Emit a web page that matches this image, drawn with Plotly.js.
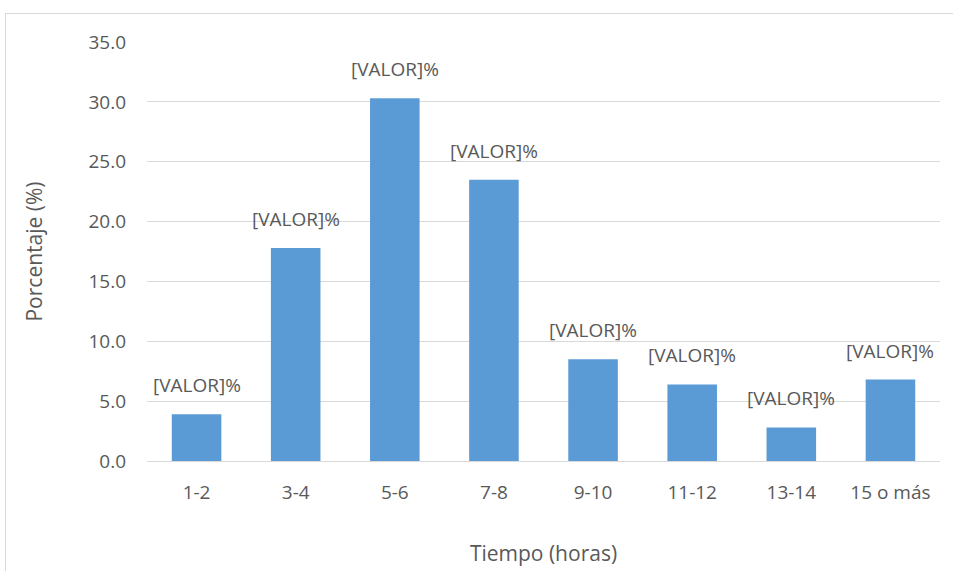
<!DOCTYPE html>
<html>
<head>
<meta charset="utf-8">
<script src="https://cdn.plot.ly/plotly-3.0.1.min.js"></script>
<style>
html,body{margin:0;padding:0;background:#fff;}
#wrap{position:relative;width:953px;height:571px;overflow:hidden;}
#chart{width:953px;height:571px;}
#frame{position:absolute;left:5px;top:13px;width:960px;height:600px;border:1px solid #d9d9d9;pointer-events:none;}
</style>
</head>
<body>
<div id="wrap"><div id="chart"></div><div id="frame"></div></div>
<script>
const categories = ["1-2","3-4","5-6","7-8","9-10","11-12","13-14","15 o más"];
const values = [3.9, 17.8, 30.3, 23.5, 8.5, 6.4, 2.8, 6.8];
const labels = categories.map(() => "[VALOR]%");
const yTickVals = [0,5,10,15,20,25,30,35];
const yTickText = ["0.0","5.0","10.0","15.0","20.0","25.0","30.0","35.0"];

const font = "Open Sans, Noto Sans, sans-serif";
const trace = {
  type: "bar",
  x: categories,
  y: values,
  marker: {color: "#5b9bd5"},
  width: 0.5,
  hoverinfo: "none"
};
const annotations = categories.map((c, i) => ({
  x: c, y: values[i], xref: "x", yref: "y",
  text: labels[i], showarrow: false,
  yanchor: "bottom", xanchor: "center", yshift: 14,
  font: {family: font, size: 19, color: "#595959"}
}));
const layout = {
  width: 953, height: 571,
  margin: {l: 147, r: 13, t: 42, b: 110},
  paper_bgcolor: "#ffffff",
  plot_bgcolor: "#ffffff",
  showlegend: false,
  annotations: annotations,
  xaxis: {
    type: "category",
    tickfont: {family: font, size: 19, color: "#595959"},
    showline: true, linecolor: "#d9d9d9", linewidth: 1,
    ticks: "", showgrid: false,
    ticklabelstandoff: 14,
    title: {text: "Tiempo (horas)", font: {family: font, size: 21, color: "#595959"}, standoff: 42}
  },
  yaxis: {
    range: [0, 35],
    tickvals: yTickVals, ticktext: yTickText,
    tickfont: {family: font, size: 19, color: "#595959"},
    showgrid: true, gridcolor: "#d9d9d9", gridwidth: 1,
    zeroline: false, showline: false, ticks: "",
    ticklabelstandoff: 20,
    title: {text: "Porcentaje (%)", font: {family: font, size: 21, color: "#595959"}, standoff: 40}
  }
};
Plotly.newPlot("chart", [trace], layout, {displayModeBar: false, staticPlot: true});
</script>
</body>
</html>
